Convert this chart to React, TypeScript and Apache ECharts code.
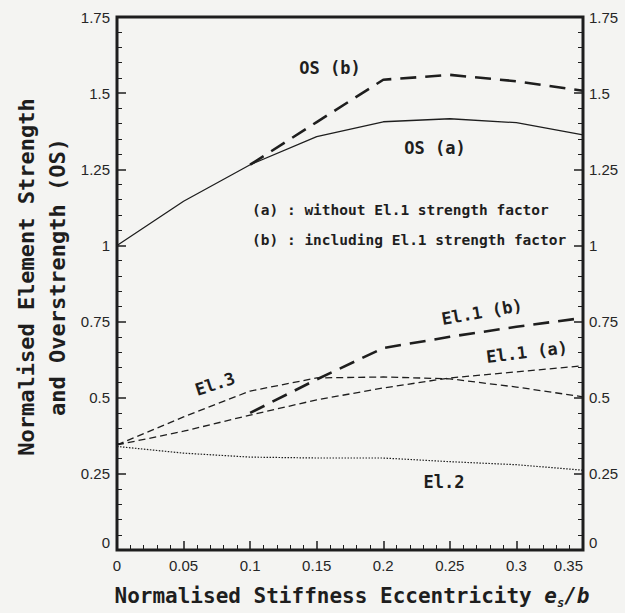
import React, { useEffect, useRef } from "react";
import * as echarts from "echarts";

// ---- data ----
const xs = [0, 0.05, 0.1, 0.15, 0.2, 0.25, 0.3, 0.35];
const osA = [1.0, 1.145, 1.265, 1.357, 1.406, 1.416, 1.403, 1.363];
const osB = [null, null, 1.265, 1.405, 1.544, 1.56, 1.539, 1.508];
const el1A = [0.345, 0.39, 0.443, 0.493, 0.532, 0.565, 0.585, 0.605];
const el1B = [null, null, 0.45, 0.56, 0.663, 0.7, 0.733, 0.762];
const el3 = [0.345, 0.437, 0.522, 0.565, 0.568, 0.562, 0.535, 0.503];
const el2 = [0.34, 0.318, 0.305, 0.302, 0.302, 0.29, 0.28, 0.262];

const xTicks = { min: 0, max: 0.35, interval: 0.05 };
const yTicks = { min: 0, max: 1.75, interval: 0.25 };

const xTitle = "Normalised Stiffness Eccentricity ";
const yTitle1 = "Normalised Element Strength";
const yTitle2 = "and Overstrength (OS)";
const legendA = "(a) : without El.1 strength factor";
const legendB = "(b) : including El.1 strength factor";

const INK = "#1e1e1e";
const BG = "#f4f4f2";
const MONO = "'DejaVu Sans Mono', monospace";
const SANS = "'Liberation Sans', Arial, sans-serif";

function pairs(vals: (number | null)[]) {
  return xs.map((x, i) => [x, vals[i]]).filter((p) => p[1] !== null);
}

function label(text: string, x: number, y: number, deg: number, size = 16) {
  return {
    type: "text",
    x,
    y,
    rotation: (deg * Math.PI) / 180,
    style: {
      text,
      fill: INK,
      fontFamily: MONO,
      fontWeight: "bold",
      fontSize: size,
      align: "center",
      verticalAlign: "middle",
      textAlign: "center",
      textVerticalAlign: "middle",
    },
  };
}

function plain(text: string, x: number, y: number, size: number, rot = 0, align = "center") {
  return {
    type: "text",
    x,
    y,
    rotation: rot,
    style: {
      text,
      fill: INK,
      fontFamily: MONO,
      fontWeight: "bold",
      fontSize: size,
      align,
      verticalAlign: "middle",
      textAlign: align,
      textVerticalAlign: "middle",
    },
  };
}

export default function App() {
  const ref = useRef<HTMLDivElement>(null);
  useEffect(() => {
    document.body.style.margin = "0";
    document.body.style.background = BG;
    const chart = echarts.init(ref.current!, null, { renderer: "svg" });
    const noLine = { show: false, onZero: false };
    const tickCommon = {
      show: true,
      inside: true,
      length: 9,
      lineStyle: { color: INK, width: 1.5 },
    };
    const minorCommon = {
      show: true,
      splitNumber: 5,
      length: 5,
      lineStyle: { color: INK, width: 1 },
    };
    const axisLabel = { color: "#262626", fontFamily: SANS, fontSize: 15 };
    const line = (
      name: string,
      vals: (number | null)[],
      width: number,
      type: any
    ) => ({
      name,
      type: "line",
      data: pairs(vals),
      showSymbol: false,
      symbol: "none",
      smooth: false,
      lineStyle: { color: INK, width, type },
      z: 3,
    });
    chart.setOption({
      animation: false,
      backgroundColor: BG,
      grid: {
        left: 117,
        right: 42,
        top: 17,
        bottom: 63,
        containLabel: false,
        show: true,
        borderColor: INK,
        borderWidth: 3,
        backgroundColor: "transparent",
      },
      xAxis: [
        {
          type: "value",
          position: "bottom",
          ...xTicks,
          axisLine: noLine,
          axisTick: tickCommon,
          minorTick: minorCommon,
          splitLine: { show: false },
          axisLabel: { ...axisLabel, margin: 8, alignMaxLabel: "right" },
        },
      ],
      yAxis: [
        {
          type: "value",
          position: "left",
          ...yTicks,
          axisLine: noLine,
          axisTick: tickCommon,
          minorTick: minorCommon,
          splitLine: { show: false },
          axisLabel: { ...axisLabel, margin: 7, verticalAlignMinLabel: "bottom" },
        },
        {
          type: "value",
          position: "right",
          ...yTicks,
          axisLine: noLine,
          axisTick: tickCommon,
          minorTick: minorCommon,
          splitLine: { show: false },
          axisLabel: { ...axisLabel, margin: 6, verticalAlignMinLabel: "bottom" },
        },
      ],
      series: [
        line("OS (a)", osA, 1.3, "solid"),
        line("OS (b)", osB, 2.6, [16, 9]),
        line("El.1 (a)", el1A, 1.3, [7, 4]),
        line("El.1 (b)", el1B, 2.6, [16, 9]),
        line("El.3", el3, 1.3, [7, 4]),
        line("El.2", el2, 1.2, [1.5, 1.5]),
      ],
      graphic: [
        label("OS (b)", 330, 68, 0, 17),
        label("OS (a)", 435, 148, 0, 17),
        label("El.1 (b)", 482, 312, 10, 17),
        label("El.1 (a)", 527, 352, 7, 17),
        label("El.3", 215, 384, 18, 17),
        label("El.2", 444, 482, 0, 17),
        plain(legendA, 252, 210, 14.5, 0, "left"),
        plain(legendB, 252, 240, 14.5, 0, "left"),
        plain(yTitle1, 26, 277, 22, Math.PI / 2),
        plain(yTitle2, 57, 277, 22, Math.PI / 2),
        {
          type: "text",
          x: 352,
          y: 596,
          style: {
            text: "{n|" + xTitle + "}{i|e}{s|s}{i|/b}",
            align: "center",
            verticalAlign: "middle",
            textAlign: "center",
            textVerticalAlign: "middle",
            rich: {
              n: {
                fontFamily: MONO,
                fontWeight: "bold",
                fontSize: 21,
                fill: INK,
                color: INK,
                lineHeight: 26,
              },
              i: {
                fontFamily: MONO,
                fontWeight: "bold",
                fontStyle: "italic",
                fontSize: 21,
                fill: INK,
                color: INK,
                lineHeight: 26,
              },
              s: {
                fontFamily: MONO,
                fontWeight: "bold",
                fontStyle: "italic",
                fontSize: 12,
                fill: INK,
                color: INK,
                lineHeight: 26,
                verticalAlign: "bottom",
              },
            },
          },
        },
      ],
    });
    return () => chart.dispose();
  }, []);
  return (
    <div
      ref={ref}
      style={{ position: "absolute", left: 0, top: 0, width: 625, height: 613 }}
    />
  );
}
